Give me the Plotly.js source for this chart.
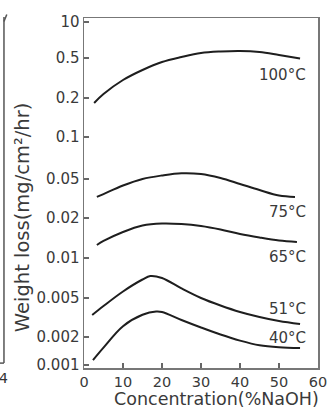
<!DOCTYPE html>
<html>
<head>
<meta charset="utf-8">
<script src="https://cdn.plot.ly/plotly-3.0.1.min.js"></script>
<style>html,body{margin:0;padding:0;background:#fff;}#chart{width:330px;height:414px;}</style>
</head>
<body>
<div id="chart"></div>
<script>
// ---- data ----
const tickVals = [0.001, 0.002, 0.005, 0.01, 0.02, 0.05, 0.1, 0.2, 0.5, 10];
const tickText = ['0.001', '0.002', '0.005', '0.01', '0.02', '0.05', '0.1', '0.2', '0.5', '10'];
const xTicks = [0, 10, 20, 30, 40, 50, 60];

const conc100 = [2.6, 5, 10, 15, 20, 25, 30, 35, 40, 45, 50, 55.4];
const loss100 = [0.183, 0.219, 0.302, 0.380, 0.456, 0.543, 0.758, 0.859, 0.895, 0.824, 0.642, 0.494];

const conc75 = [3.3, 5, 10, 15, 20, 25, 30, 35, 40, 45, 50, 54.1];
const loss75 = [0.0328, 0.0351, 0.0429, 0.0500, 0.0530, 0.0550, 0.0543, 0.0508, 0.0445, 0.0386, 0.0339, 0.0328];

const conc65 = [3.3, 5, 10, 15, 20, 25, 30, 35, 40, 45, 50, 54.6];
const loss65 = [0.01253, 0.01343, 0.01569, 0.01756, 0.01818, 0.01802, 0.01741, 0.01639, 0.01516, 0.01426, 0.01354, 0.0132];

const conc51 = [2.1, 5, 10, 15, 17, 20, 25, 30, 35, 40, 45, 50, 55.4];
const loss51 = [0.00335, 0.00414, 0.0056, 0.00689, 0.00732, 0.00707, 0.0059, 0.005, 0.00419, 0.0036, 0.0032, 0.00291, 0.00271];

const conc40 = [2.3, 5, 10, 15, 18.5, 20, 25, 30, 35, 40, 45, 50, 55.4];
const loss40 = [0.00113, 0.00154, 0.00258, 0.00337, 0.00364, 0.0036, 0.00298, 0.0025, 0.00212, 0.00183, 0.00163, 0.00155, 0.00152];

const seriesNames = ['100°C', '75°C', '65°C', '51°C', '40°C'];

// ---- non-uniform (broken) log scale of the original axis ----
// axis units for each labelled tick (uneven spacing as printed)
const tickUnits = [3, 31, 70, 110, 150, 189, 231, 270, 310, 346];
function scaleY(v) {
  const lv = Math.log10(v);
  let i = 0;
  while (i < tickVals.length - 2 && v > tickVals[i + 1]) i++;
  const a = Math.log10(tickVals[i]), b = Math.log10(tickVals[i + 1]);
  return tickUnits[i] + (lv - a) / (b - a) * (tickUnits[i + 1] - tickUnits[i]);
}

const lineStyle = {color: '#1e1e1e', width: 2, shape: 'spline', smoothing: 1};
const allX = [conc100, conc75, conc65, conc51, conc40];
const allY = [loss100, loss75, loss65, loss51, loss40];
const traces = allX.map((xs, k) => ({
  type: 'scatter', mode: 'lines', name: seriesNames[k],
  x: xs, y: allY[k].map(scaleY),
  customdata: allY[k],
  line: lineStyle, hoverinfo: 'skip'
}));

const FONT = 'DejaVu Sans, sans-serif';
const TXT = '#3a3a3a';
const labelFont = {family: FONT, size: 15, color: TXT};
const labelUnits = [293, 156, 111, 59, 30];
const annotations = seriesNames.map((t, k) => ({
  text: t, x: 57.5, y: labelUnits[k], xref: 'x', yref: 'y',
  xanchor: 'right', yanchor: 'middle', showarrow: false, font: labelFont
}));
// axis titles
annotations.push({text: 'Concentration(%NaOH)', xref: 'paper', yref: 'paper', x: 0.568, y: -0.088,
  xanchor: 'center', yanchor: 'middle', showarrow: false, font: {family: FONT, size: 17.5, color: TXT}});
annotations.push({text: 'Weight loss(mg/cm²/hr)', xref: 'paper', yref: 'paper', x: -0.265, y: 0.431,
  xanchor: 'center', yanchor: 'middle', textangle: -90, showarrow: false, font: {family: FONT, size: 19.5, color: TXT}});
// fragment of the neighbouring figure at the left edge
annotations.push({text: '4', xref: 'paper', yref: 'paper', x: -0.342, y: -0.029,
  xanchor: 'center', yanchor: 'middle', showarrow: false,
  font: {family: FONT, size: 14, color: '#333'}});

const axisFont = {family: FONT, size: 15, color: TXT};
const layout = {
  width: 330, height: 414,
  margin: {l: 84, r: 12, t: 18, b: 46},
  paper_bgcolor: '#fff', plot_bgcolor: '#fff',
  showlegend: false,
  xaxis: {
    range: [0, 60], tickvals: xTicks, ticktext: xTicks.map(String),
    ticks: 'inside', ticklen: 5, tickwidth: 1.2, tickcolor: '#666',
    showline: true, linecolor: '#777', linewidth: 1.5, mirror: true,
    showgrid: false, zeroline: false, tickfont: {family: FONT, size: 14.5, color: TXT}
  },
  yaxis: {
    range: [0, 350], tickvals: tickUnits, ticktext: tickText,
    ticks: 'inside', ticklen: 5, tickwidth: 1.2, tickcolor: '#666',
    showline: true, linecolor: '#777', linewidth: 1.5, mirror: true,
    showgrid: false, zeroline: false, tickfont: axisFont
  },
  annotations: annotations,
  shapes: [
    {type: 'line', xref: 'paper', yref: 'paper', x0: -0.342, x1: -0.342, y0: 0.014, y1: 1.003,
     line: {color: '#555', width: 1.5}},
    {type: 'line', xref: 'paper', yref: 'paper', x0: -0.36, x1: -0.342, y0: 0.014, y1: 0.014,
     line: {color: '#555', width: 1.5}},
    {type: 'line', xref: 'paper', yref: 'paper', x0: -0.342, x1: -0.33, y0: 0.99, y1: 1.01,
     line: {color: '#555', width: 1.5}}
  ]
};

Plotly.newPlot('chart', traces, layout, {staticPlot: true, displayModeBar: false});
</script>
</body>
</html>
